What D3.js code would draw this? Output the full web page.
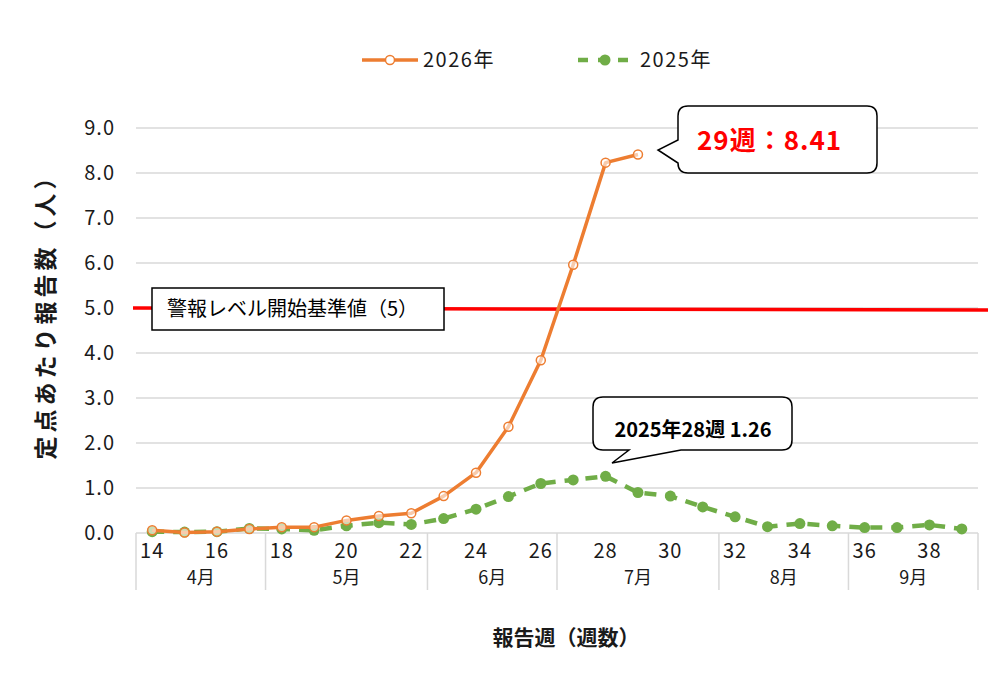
<!DOCTYPE html>
<html><head><meta charset="utf-8">
<script src="https://cdn.jsdelivr.net/npm/d3@7"></script>
<style>
body{margin:0;background:#fff;}
text{font-family:"Noto Sans CJK JP","Noto Sans",sans-serif;}
</style></head>
<body><svg id="c" width="991" height="687"></svg>
<script>
const weeks = d3.range(14, 40);
const tickWeeks = [14,16,18,20,22,24,26,28,30,32,34,36,38];
const months = [
  {label:"4月", from:14, to:17},
  {label:"5月", from:18, to:22},
  {label:"6月", from:23, to:26},
  {label:"7月", from:27, to:31},
  {label:"8月", from:32, to:35},
  {label:"9月", from:36, to:39}
];
const yTicks = [0,1,2,3,4,5,6,7,8,9];
const weeks2026 = [14,15,16,17,18,19,20,21,22,23,24,25,26,27,28,29];
const values2026 = [0.06,0.01,0.03,0.09,0.13,0.13,0.28,0.38,0.44,0.82,1.34,2.36,3.84,5.96,8.23,8.41];
const weeks2025 = weeks;
const values2025 = [0.03,0.02,0.03,0.10,0.09,0.06,0.16,0.23,0.19,0.32,0.53,0.81,1.10,1.18,1.26,0.90,0.82,0.58,0.36,0.14,0.21,0.16,0.12,0.12,0.18,0.09];
const threshold = 5;
const seriesNames = ["2026年","2025年"];

const svg = d3.select("#c");
const x = d3.scaleBand().domain(weeks).range([136, 978]);
const y = d3.scaleLinear().domain([0, 9]).range([533, 128]);

// gridlines
svg.append("g").selectAll("line").data(yTicks.filter(d=>d>0)).join("line")
  .attr("x1",136).attr("x2",978).attr("y1",d=>y(d)).attr("y2",d=>y(d))
  .attr("stroke","#d9d9d9").attr("stroke-width",1.5);

// y labels
svg.append("g").selectAll("text").data(yTicks).join("text")
  .attr("x",115).attr("y",d=>y(d)+7).attr("text-anchor","end")
  .attr("font-size",20).attr("letter-spacing",1).attr("fill","#1a1a1a").text(d=>d.toFixed(1));

// x axis line
svg.append("line").attr("x1",136).attr("x2",978).attr("y1",533).attr("y2",533)
  .attr("stroke","#d9d9d9").attr("stroke-width",1.5);
// month separators
const seps = [months[0].from].concat(months.map(m=>m.to+1));
svg.append("g").selectAll("line").data(seps).join("line")
  .attr("x1",d=> d<=39 ? x(d) : x(39)+x.bandwidth())
  .attr("x2",d=> d<=39 ? x(d) : x(39)+x.bandwidth())
  .attr("y1",533).attr("y2",590).attr("stroke","#d9d9d9").attr("stroke-width",1.5);
svg.append("g").selectAll("text").data(tickWeeks).join("text")
  .attr("x",d=>x(d)+x.bandwidth()/2).attr("y",558).attr("text-anchor","middle")
  .attr("font-size",20).attr("letter-spacing",1).attr("fill","#1a1a1a").text(d=>d);
svg.append("g").selectAll("text").data(months).join("text")
  .attr("x",m=>(x(m.from)+x(m.to)+x.bandwidth())/2).attr("y",584).attr("text-anchor","middle")
  .attr("font-size",18).attr("fill","#1a1a1a").text(m=>m.label);

// axis titles
svg.append("text").attr("x",566).attr("y",645).attr("text-anchor","middle")
  .attr("font-size",21).attr("font-weight","bold").attr("fill","#1a1a1a").text("報告週（週数）");
svg.append("text").attr("transform","translate(54,311) rotate(-90)").attr("text-anchor","middle")
  .attr("font-size",23).attr("letter-spacing",4).attr("font-weight","bold").attr("fill","#1a1a1a").text("定点あたり報告数（人）");

// threshold line
svg.append("line").attr("x1",133).attr("x2",988).attr("y1",y(threshold)).attr("y2",y(threshold)+2)
  .attr("stroke","#ff0000").attr("stroke-width",3.5);
svg.append("rect").attr("x",152).attr("y",288).attr("width",292).attr("height",42)
  .attr("fill","#fff").attr("stroke","#000").attr("stroke-width",1.5);
svg.append("text").attr("x",167).attr("y",316).attr("font-size",20).attr("fill","#000")
  .text("警報レベル開始基準値（5）");

const cx = d=>x(d)+x.bandwidth()/2;
const line = d3.line().x(d=>cx(d[0])).y(d=>y(d[1]));
const d2025 = weeks2025.map((w,i)=>[w,values2025[i]]);
const d2026 = weeks2026.map((w,i)=>[w,values2026[i]]);

// 2025
svg.append("path").datum(d2025).attr("d",line).attr("fill","none")
  .attr("stroke","#70ad47").attr("stroke-width",4.5).attr("stroke-dasharray","12,9");
svg.append("g").selectAll("circle").data(d2025).join("circle")
  .attr("cx",d=>cx(d[0])).attr("cy",d=>y(d[1])).attr("r",5.5).attr("fill","#70ad47");

// 2026
svg.append("path").datum(d2026).attr("d",line).attr("fill","none")
  .attr("stroke","#ed7d31").attr("stroke-width",3.5).attr("stroke-linejoin","round");
svg.append("g").selectAll("circle").data(d2026).join("circle")
  .attr("cx",d=>cx(d[0])).attr("cy",d=>y(d[1])).attr("r",4.5)
  .attr("fill","#fff").attr("fill-opacity",0.6).attr("stroke","#ed7d31").attr("stroke-width",1.5);

// legend
const lg = svg.append("g");
lg.append("line").attr("x1",362).attr("x2",418).attr("y1",60).attr("y2",60).attr("stroke","#ed7d31").attr("stroke-width",3.5);
lg.append("circle").attr("cx",390).attr("cy",60).attr("r",4.5).attr("fill","#fff").attr("stroke","#ed7d31").attr("stroke-width",1.5);
lg.append("text").attr("x",423).attr("y",67).attr("font-size",20).attr("letter-spacing",1.5).attr("fill","#1a1a1a").text(seriesNames[0]);
lg.append("line").attr("x1",578).attr("x2",632).attr("y1",60).attr("y2",60).attr("stroke","#70ad47").attr("stroke-width",4.5).attr("stroke-dasharray","10,10");
lg.append("circle").attr("cx",605).attr("cy",60).attr("r",5.5).attr("fill","#70ad47");
lg.append("text").attr("x",640).attr("y",67).attr("font-size",20).attr("letter-spacing",1.5).attr("fill","#1a1a1a").text(seriesNames[1]);

// callouts
function callout(bx,by,bw,bh,r,tipX,tipY,b1,b2,side){
  let p = `M${bx+r},${by} H${bx+bw-r} Q${bx+bw},${by} ${bx+bw},${by+r} V${by+bh-r} Q${bx+bw},${by+bh} ${bx+bw-r},${by+bh}`;
  if(side==='bottom'){
    p += ` H${b2} L${tipX},${tipY} L${b1},${by+bh} H${bx+r} Q${bx},${by+bh} ${bx},${by+bh-r} V${by+r} Q${bx},${by} ${bx+r},${by} Z`;
  } else {
    p += ` H${bx+r} Q${bx},${by+bh} ${bx},${by+bh-r} V${b2} L${tipX},${tipY} L${bx},${b1} V${by+r} Q${bx},${by} ${bx+r},${by} Z`;
  }
  svg.append("path").attr("d",p).attr("fill","#fff").attr("stroke","#000").attr("stroke-width",1.5);
}
callout(678,106,199,67,10,658,150,140,163,'left');
svg.append("text").attr("x",697).attr("y",150).attr("font-size",26).attr("letter-spacing",1).attr("font-weight","bold").attr("fill","#ff0000")
  .text(`${weeks2026[weeks2026.length-1]}週：${values2026[values2026.length-1].toFixed(2)}`);
callout(593,397,199,53,10,612,463,629,681,'bottom');
svg.append("text").attr("x",693).attr("y",437).attr("text-anchor","middle").attr("font-size",20).attr("font-weight","bold").attr("fill","#000")
  .text(`2025年28週 ${values2025[weeks2025.indexOf(28)].toFixed(2)}`);
</script></body></html>
